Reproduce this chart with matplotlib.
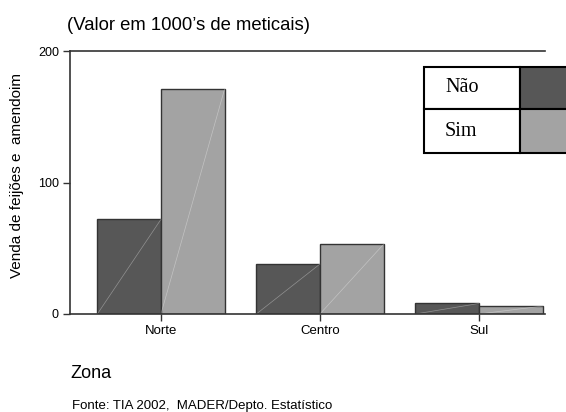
import matplotlib
matplotlib.use("Agg")
import matplotlib.pyplot as plt
from matplotlib.patches import Rectangle
import numpy as np

plt.rcParams["font.family"] = ["Liberation Sans", "DejaVu Sans"]

# dados (valor em 1000's de meticais)
zonas = ["Norte", "Centro", "Sul"]
nao = [72, 38, 8]
sim = [171, 53, 6]
series = ["Não", "Sim"]
cores = ["#575757", "#a3a3a3"]

fig = plt.figure(figsize=(5.66, 4.12), dpi=100)
ax = fig.add_axes([0.1237, 0.2379, 0.839, 0.638])

x = np.arange(len(zonas))
w = 0.40
b1 = ax.bar(x - w / 2, nao, w, color=cores[0], edgecolor="#333333", linewidth=1.0)
b2 = ax.bar(x + w / 2, sim, w, color=cores[1], edgecolor="#333333", linewidth=1.0)

# linha diagonal fraca dentro de cada barra
for bars in (b1, b2):
    for r in bars:
        x0, x1 = r.get_x(), r.get_x() + r.get_width()
        ax.plot([x0, x1], [0, r.get_height()], color="white", lw=0.5, alpha=0.35)

ax.set_xlim(-0.572, 2.415)
ax.set_ylim(0, 200)
ax.set_yticks([0, 100, 200])
ax.set_xticks(x)
ax.set_xticklabels(zonas)
ax.tick_params(axis="both", length=5, width=1, color="#333333", pad=3)
ax.tick_params(axis="x", labelsize=9.5)
ax.tick_params(axis="y", labelsize=9)
ax.spines["right"].set_visible(False)
for s in ("left", "top", "bottom"):
    ax.spines[s].set_color("#333333")
    ax.spines[s].set_linewidth(1.2)

W, H = 566.0, 412.0
fig.text(17 / W, 1 - 175 / H, "Venda de feijões e  amendoim", fontsize=11,
         rotation=90, ha="center", va="center")
fig.text(67 / W, 1 - 26 / H, "(Valor em 1000’s de meticais)", fontsize=13.3, va="center")
fig.text(70 / W, 1 - 373 / H, "Zona", fontsize=13, va="center")
fig.text(72 / W, 1 - 406 / H, "Fonte: TIA 2002,  MADER/Depto. Estatístico", fontsize=9.5, va="center")

# legenda em forma de tabela
xl, xm, xr = 424, 520, 572
rows = [(67, 109), (109, 153)]
for i, (y0, y1) in enumerate(rows):
    fig.patches.append(Rectangle((xl / W, 1 - y1 / H), (xm - xl) / W, (y1 - y0) / H,
                                 transform=fig.transFigure, facecolor="white",
                                 edgecolor="black", lw=1.5, zorder=5))
    fig.patches.append(Rectangle((xm / W, 1 - y1 / H), (xr - xm) / W, (y1 - y0) / H,
                                 transform=fig.transFigure, facecolor=cores[i],
                                 edgecolor="black", lw=1.5, zorder=5))
    fig.text(445 / W, 1 - (y0 + y1) / 2 / H, series[i], fontsize=14.5,
             family="Liberation Serif", va="center", zorder=6)

fig.savefig("out.png", dpi=100)
